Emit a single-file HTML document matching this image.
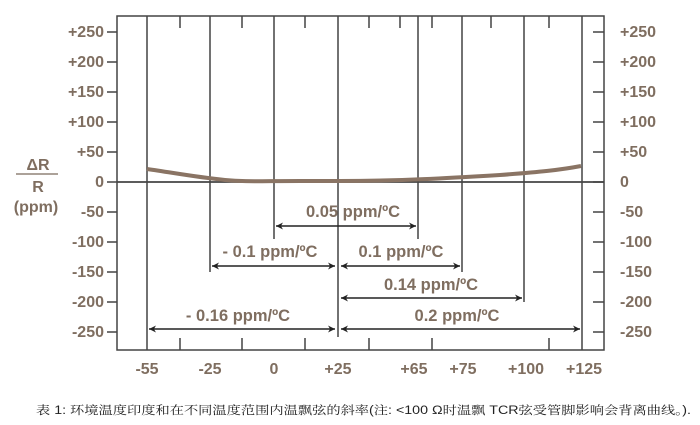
<!DOCTYPE html><html><head><meta charset="utf-8"><style>body{margin:0;background:#fff}svg{display:block}</style></head><body>
<svg width="700" height="425" viewBox="0 0 700 425" xmlns="http://www.w3.org/2000/svg">
<defs><marker id="a" viewBox="0 0 10 10" refX="10" refY="5" markerWidth="9" markerHeight="7" orient="auto-start-reverse" markerUnits="userSpaceOnUse"><path d="M0,0 L10,5 L0,10 L3,5z" fill="#222"/></marker></defs>
<g stroke="#444" stroke-width="1.5" fill="none">
<rect x="117" y="16" width="487" height="334"/>
<line x1="117" y1="182" x2="604" y2="182" stroke-width="1.8"/>
<path d="M107 32h10M107 62h10M107 92h10M107 122h10M107 152h10M107 182h10M107 212h10M107 242h10M107 272h10M107 302h10M107 332h10"/>
<path d="M593 32h11M593 62h11M593 92h11M593 122h11M593 152h11M593 182h11M593 212h11M593 242h11M593 272h11M593 302h11M593 332h11"/>
<path d="M180 350v-12M242 350v-12M305 350v-12M369 350v-12M432 350v-12M549 350v-12"/>
<path d="M180 16v12M242 16v12M305 16v12M369 16v12M400 16v12M432 16v12M491 16v12M549 16v12"/>
<path d="M147 16V350M582 16V350M338 16V337M210 16V272M274 16V239M418 16V239M462 16V272M524 16V302"/>
</g>
<path d="M147 169 C175 173,195 177,225 180 C245 182,260 181,300 181 L340 181 C400 181,450 178,500 175 C540 172,560 170,581 166" stroke="#8a7464" stroke-width="4" fill="none"/>
<g stroke="#222" stroke-width="1.4" marker-start="url(#a)" marker-end="url(#a)">
<line x1="276" y1="226" x2="416" y2="226"/>
<line x1="212" y1="266" x2="335" y2="266"/>
<line x1="341" y1="266" x2="460" y2="266"/>
<line x1="341" y1="298" x2="522" y2="298"/>
<line x1="149" y1="329" x2="335" y2="329"/>
<line x1="341" y1="329" x2="580" y2="329"/>
</g>
<g font-family="Liberation Sans, Arial, sans-serif" font-weight="bold" font-size="16" fill="#7f6e60">
<g text-anchor="middle" font-size="16.5">
<text x="353" y="217">0.05 ppm/ºC</text>
<text x="270" y="257">- 0.1 ppm/ºC</text>
<text x="401" y="257">0.1 ppm/ºC</text>
<text x="431" y="290">0.14 ppm/ºC</text>
<text x="238" y="321">- 0.16 ppm/ºC</text>
<text x="457" y="321">0.2 ppm/ºC</text>
</g>
<g text-anchor="middle">
<text x="147" y="374">-55</text><text x="210" y="374">-25</text><text x="274" y="374">0</text><text x="338" y="374">+25</text>
<text x="414" y="374">+65</text><text x="463" y="374">+75</text><text x="526" y="374">+100</text><text x="584" y="374">+125</text>
<text x="38" y="170">ΔR</text><text x="38" y="192">R</text><text x="36" y="212">(ppm)</text>
</g>
<g text-anchor="end">
<text x="104" y="37">+250</text><text x="104" y="67">+200</text><text x="104" y="97">+150</text><text x="104" y="127">+100</text><text x="104" y="157">+50</text><text x="104" y="187">0</text>
<text x="104" y="217">-50</text><text x="104" y="247">-100</text><text x="104" y="277">-150</text><text x="104" y="307">-200</text><text x="104" y="337">-250</text>
</g>
<g>
<text x="620" y="37">+250</text><text x="620" y="67">+200</text><text x="620" y="97">+150</text><text x="620" y="127">+100</text><text x="620" y="157">+50</text><text x="620" y="187">0</text>
<text x="620" y="217">-50</text><text x="620" y="247">-100</text><text x="620" y="277">-150</text><text x="620" y="307">-200</text><text x="620" y="337">-250</text>
</g>
</g>
<line x1="16" y1="174" x2="58" y2="174" stroke="#7b6a5c" stroke-width="1.3"/>
<text x="36" y="414" font-family="Liberation Sans, 'Noto Serif CJK SC', serif" font-size="11.5" fill="#222" textLength="655" lengthAdjust="spacingAndGlyphs">表 1: 环境温度印度和在不同温度范围内温飘弦的斜率(注: &lt;100 Ω时温飘 TCR弦受管脚影响会背离曲线。).</text>
</svg>
</body></html>
